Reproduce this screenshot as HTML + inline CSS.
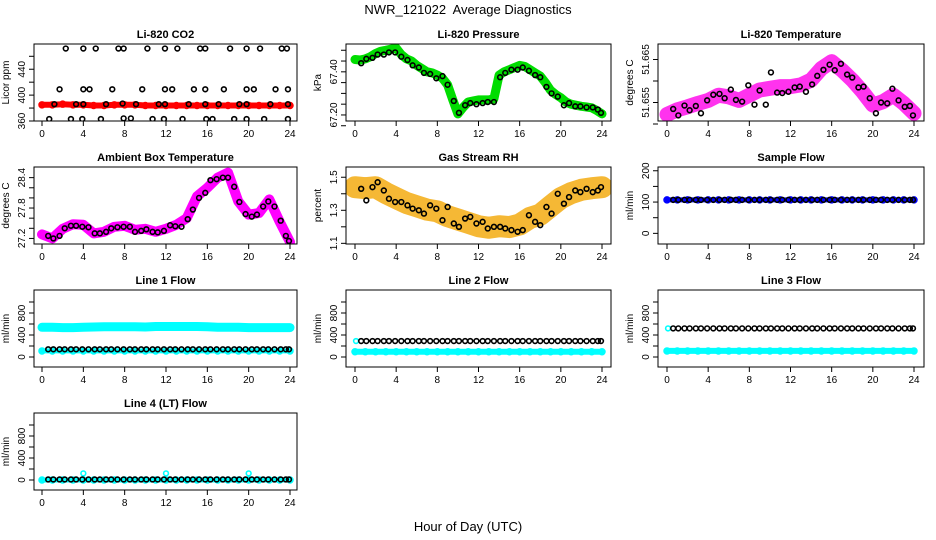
<!DOCTYPE html>
<html><head><meta charset="utf-8"><style>
body{margin:0;background:#fff}
svg{display:block;font-family:"Liberation Sans",sans-serif}
</style></head><body>
<svg id="chart" width="936" height="540" viewBox="0 0 936 540">
<text x="468" y="14" font-size="13" text-anchor="middle" style="white-space:pre">NWR_121022  Average Diagnostics</text>
<text x="468" y="531" font-size="13" text-anchor="middle">Hour of Day (UTC)</text>
</svg>
<script>
const xTicks = [0,4,8,12,16,20,24];
const blackHours = [0.6,1.1,1.7,2.2,2.8,3.3,3.9,4.5,5.1,5.6,6.2,6.7,7.3,7.9,8.5,9.0,9.6,10.1,10.7,11.2,11.8,12.4,12.9,13.5,14.1,14.6,15.2,15.8,16.3,16.9,17.5,18.0,18.6,19.1,19.7,20.3,20.8,21.4,21.9,22.5,23.1,23.6,23.9];
const hourly = [0,1,2,3,4,5,6,7,8,9,10,11,12,13,14,15,16,17,18,19,20,21,22,23,24];
const halfHourly = [0,0.5,1,1.5,2,2.5,3,3.5,4,4.5,5,5.5,6,6.5,7,7.5,8,8.5,9,9.5,10,10.5,11,11.5,12,12.5,13,13.5,14,14.5,15,15.5,16,16.5,17,17.5,18,18.5,19,19.5,20,20.5,21,21.5,22,22.5,23,23.5,24];

const co2Red = [385,385,386,385,385,384,384,385,385,385,384,384,384,384,384,384,384,384,384,384,384,384,384,384,384];
const co2BlackX = [2.3,4.0,5.2,7.4,7.9,10.2,11.9,13.1,15.3,15.8,18.2,19.8,21.1,23.2,23.7,
 1.7,4.0,4.6,6.8,9.7,11.9,12.6,14.7,15.8,17.6,19.8,20.5,22.6,23.8,
 1.2,3.3,4.0,6.2,7.8,9.1,11.3,11.9,14.2,15.8,17.1,19.1,19.8,22.1,23.8,
 0.7,2.8,3.9,5.7,7.9,8.6,10.7,11.8,13.6,15.9,16.5,18.6,19.8,21.5,23.8];
const co2BlackY = [472,472,472,472,472,472,472,472,472,472,472,472,472,472,472,
 409,409,409,409,409,409,409,409,409,409,409,409,409,409,
 386,386,386,386,387,386,386,386,386,386,386,386,386,386,386,
 363,363,363,363,364,364,363,363,363,363,363,363,363,363,363];

const presGreen = [67.457,67.455,67.46,67.47,67.485,67.495,67.50,67.505,67.51,67.48,67.46,67.45,67.43,67.415,67.40,67.395,67.385,67.37,67.34,67.27,67.205,67.235,67.26,67.265,67.27,67.27,67.27,67.275,67.385,67.40,67.41,67.42,67.43,67.425,67.41,67.395,67.38,67.35,67.315,67.295,67.28,67.26,67.25,67.245,67.24,67.237,67.233,67.22,67.205];
const presBlack = [67.44,67.46,67.465,67.48,67.48,67.49,67.49,67.47,67.455,67.43,67.42,67.395,67.39,67.37,67.38,67.34,67.265,67.21,67.245,67.255,67.25,67.255,67.26,67.26,67.375,67.395,67.41,67.41,67.42,67.405,67.385,67.375,67.33,67.30,67.285,67.245,67.255,67.24,67.24,67.235,67.235,67.225,67.21];

const tempMagenta = [51.6522,51.6533,51.6540,51.6548,51.6555,51.6567,51.6563,51.6555,51.6567,51.6579,51.6583,51.6587,51.6587,51.6591,51.6602,51.6629,51.6645,51.6625,51.6602,51.6575,51.6544,51.6552,51.6567,51.6548,51.6525];
const tempBlack = [51.6535,51.6520,51.6543,51.6532,51.6542,51.6525,51.6555,51.6568,51.6570,51.6560,51.6580,51.6556,51.6552,51.6590,51.6545,51.6578,51.6545,51.6620,51.6573,51.6572,51.6575,51.6585,51.6587,51.6575,51.6592,51.6612,51.6626,51.6638,51.6625,51.6640,51.6615,51.6608,51.6585,51.6587,51.6560,51.6525,51.6550,51.6548,51.6582,51.6555,51.6540,51.6542,51.6520];

const ambMagenta = [27.28,27.2,27.39,27.48,27.47,27.3,27.33,27.43,27.45,27.37,27.39,27.33,27.39,27.47,27.6,28.03,28.2,28.4,28.5,27.93,27.67,27.7,27.97,27.53,27.13];
const ambBlack = [27.25,27.2,27.25,27.4,27.45,27.45,27.43,27.42,27.3,27.3,27.33,27.4,27.42,27.43,27.43,27.33,27.35,27.38,27.33,27.32,27.35,27.46,27.44,27.43,27.58,27.77,28.0,28.1,28.35,28.37,28.4,28.4,28.22,27.92,27.68,27.63,27.67,27.83,27.93,27.83,27.55,27.25,27.15];

const rhOrange = [1.44,1.434,1.44,1.404,1.374,1.344,1.324,1.304,1.294,1.264,1.244,1.224,1.204,1.194,1.204,1.198,1.214,1.254,1.274,1.324,1.374,1.404,1.424,1.434,1.44];
const rhBlack = [1.43,1.36,1.44,1.47,1.42,1.37,1.35,1.35,1.33,1.31,1.30,1.28,1.33,1.31,1.24,1.32,1.22,1.20,1.25,1.26,1.22,1.23,1.19,1.20,1.20,1.19,1.18,1.17,1.18,1.27,1.23,1.21,1.32,1.28,1.40,1.34,1.38,1.42,1.41,1.43,1.41,1.42,1.44];

const sampleBlue = [107,107,107,107,107,107,107,107,107,107,107,107,107,107,107,107,107,107,107,107,107,107,107,107,107];
const sampleBlack = 107;
const line1CyanHigh = [540,540,535,535,540,545,550,550,550,550,545,555,555,555,555,555,550,540,540,540,535,535,535,535,535];
const line1CyanLow = 110, line1Black = 140;
const line2Cyan = 95, line2Black = 290;
const line3Cyan = 110, line3Black = 520;
const line4Cyan = 0, line4Black = 10;
const line4OutX = [4,12,20], line4OutY = [120,120,120];

const NS = "http://www.w3.org/2000/svg";
const svg = document.getElementById('chart');
function mk(tag, attrs, parent){ const e=document.createElementNS(NS,tag); for(const k in attrs) e.setAttribute(k,attrs[k]); (parent||svg).appendChild(e); return e; }

const cols = [{b:[34,297],x:[42,290]},{b:[346,611],x:[355,602]},{b:[658,924],x:[667,914]}];
const rows = [[44,121],[167,244],[290,367],[413,490]];

function panel(name,title,ylab,r,c,ylim,ticks,labels){
  const g = mk('g',{});
  
  
  const [bx0,bx1]=cols[c].b, [px0,px1]=cols[c].x, [by0,by1]=rows[r];
  const sx = h => px0 + (px1-px0)*h/24;
  const sy = v => by1 - (v-ylim[0])/(ylim[1]-ylim[0])*(by1-by0);
  const t = mk('text',{x:(bx0+bx1)/2,y:by0-6,'font-size':11,'font-weight':'bold','text-anchor':'middle'},g);
  t.textContent = title;
  
  
  const yl = mk('text',{x:0,y:0,'font-size':10,'text-anchor':'middle',transform:`translate(${bx0-25},${(by0+by1)/2}) rotate(-90)`},g);
  yl.textContent = ylab;
  
  
  xTicks.forEach(v=>{
    mk('line',{x1:sx(v),x2:sx(v),y1:by1,y2:by1+5,stroke:'#000'},g);
    const tl = mk('text',{x:sx(v),y:by1+16,'font-size':10,'text-anchor':'middle'},g);
    tl.textContent = v;
    
    
  });
  ticks.forEach(v=>{
    mk('line',{x1:bx0,x2:bx0-5,y1:sy(v),y2:sy(v),stroke:'#000'},g);
  });
  labels.forEach(l=>{
    const tl = mk('text',{x:0,y:0,'font-size':10,'text-anchor':'middle',transform:`translate(${bx0-9},${sy(l[0])}) rotate(-90)`},g);
    tl.textContent = l[1];
    
    
  });
  const plot = mk('g',{},g);
  const cp = 'clip'+name;
  const cl = mk('clipPath',{id:cp},g); mk('rect',{x:bx0,y:by0,width:bx1-bx0,height:by1-by0},cl);
  plot.setAttribute('clip-path',`url(#${cp})`);
  mk('rect',{x:bx0,y:by0,width:bx1-bx0,height:by1-by0,fill:'none',stroke:'#000','stroke-width':1},g);
  return {plot,sx,sy};
}
function band(p,xs,ys,color,w,name){
  const pts = xs.map((x,i)=>p.sx(x).toFixed(1)+','+p.sy(ys[i]).toFixed(1)).join(' ');
  const pl = mk('polyline',{points:pts,fill:'none',stroke:color,'stroke-width':w,'stroke-linecap':'round','stroke-linejoin':'round'},p.plot);
  
  
  xs.forEach((x,i)=>mk('circle',{cx:p.sx(x),cy:p.sy(ys[i]),r:3,fill:'none',stroke:color,'stroke-width':1.5},p.plot));
}
function pts(p,xs,ys,color,name){
  xs.forEach((x,i)=>{
    const c = mk('circle',{cx:p.sx(x),cy:p.sy(ys[i]),r:2.4,fill:'none',stroke:color,'stroke-width':1.6},p.plot);
    
    
  });
}
const fill = (n,v)=>Array(n).fill(v);

let p = panel('co2','Li-820 CO2','Licor ppm',0,0,[360,479],[360,380,400,420,440,460],[[360,'360'],[400,'400'],[440,'440']]);
band(p,hourly,co2Red,'#ff0000',6,'co2-red-band');
pts(p,co2BlackX,co2BlackY,'#000','co2-point');

p = panel('pressure','Li-820 Pressure','kPa',0,1,[67.172,67.529],[67.15,67.20,67.25,67.30,67.35,67.40,67.45,67.50],[[67.20,'67.20'],[67.40,'67.40']]);
band(p,halfHourly,presGreen,'#00dd00',9,'pressure-green-band');
pts(p,blackHours,presBlack,'#000','pressure-point');

p = panel('li820-temp','Li-820 Temperature','degrees C',0,2,[51.6507,51.6686],[51.650,51.655,51.660,51.665],[[51.655,'51.655'],[51.665,'51.665']]);
band(p,hourly,tempMagenta,'#ff33ee',15,'li820-temp-band');
pts(p,blackHours,tempBlack,'#000','li820-temp-point');

p = panel('ambient-temp','Ambient Box Temperature','degrees C',1,0,[27.09,28.61],[27.2,27.4,27.6,27.8,28.0,28.2,28.4],[[27.2,'27.2'],[27.8,'27.8'],[28.4,'28.4']]);
band(p,hourly,ambMagenta,'#ff00ff',10,'ambient-temp-band');
pts(p,blackHours,ambBlack,'#000','ambient-temp-point');

p = panel('rh','Gas Stream RH','percent',1,1,[1.096,1.562],[1.1,1.2,1.3,1.4,1.5],[[1.1,'1.1'],[1.3,'1.3'],[1.5,'1.5']]);
band(p,hourly,rhOrange,'#f5b835',22,'rh-band');
pts(p,blackHours,rhBlack,'#000','rh-point');

p = panel('sample-flow','Sample Flow','ml/min',1,2,[-34,212],[0,50,100,150,200],[[0,'0'],[100,'100'],[200,'200']]);
band(p,hourly,sampleBlue,'#0000ff',5,'sample-flow-band');
pts(p,blackHours,fill(43,sampleBlack),'#000','sample-flow-point');

const flowTicks=[0,200,400,600,800,1000], flowLabels=[[0,'0'],[400,'400'],[800,'800']], flowLim=[-182,1218];
p = panel('line1-flow','Line 1 Flow','ml/min',2,0,flowLim,flowTicks,flowLabels);
band(p,hourly,line1CyanHigh,'#00ffff',9,'line1-cyan-high');
band(p,hourly,fill(25,line1CyanLow),'#00ffff',5,'line1-cyan-low');
pts(p,blackHours,fill(43,line1Black),'#000','line1-point');
p = panel('line2-flow','Line 2 Flow','ml/min',2,1,flowLim,flowTicks,flowLabels);
band(p,hourly,fill(25,line2Cyan),'#00ffff',6,'line2-cyan');
pts(p,[0.1],[line2Black],'#00ffff','line2-cyan-point');
pts(p,blackHours,fill(43,line2Black),'#000','line2-point');
p = panel('line3-flow','Line 3 Flow','ml/min',2,2,flowLim,flowTicks,flowLabels);
band(p,hourly,fill(25,line3Cyan),'#00ffff',6,'line3-cyan');
pts(p,[0.1],[line3Black],'#00ffff','line3-cyan-point');
pts(p,blackHours,fill(43,line3Black),'#000','line3-point');
p = panel('line4-flow','Line 4 (LT) Flow','ml/min',3,0,flowLim,flowTicks,flowLabels);
band(p,hourly,fill(25,line4Cyan),'#00ffff',5,'line4-cyan');
pts(p,line4OutX,line4OutY,'#00ffff','line4-cyan-outlier');
pts(p,blackHours,fill(43,line4Black),'#000','line4-point');
</script>
</body></html>
